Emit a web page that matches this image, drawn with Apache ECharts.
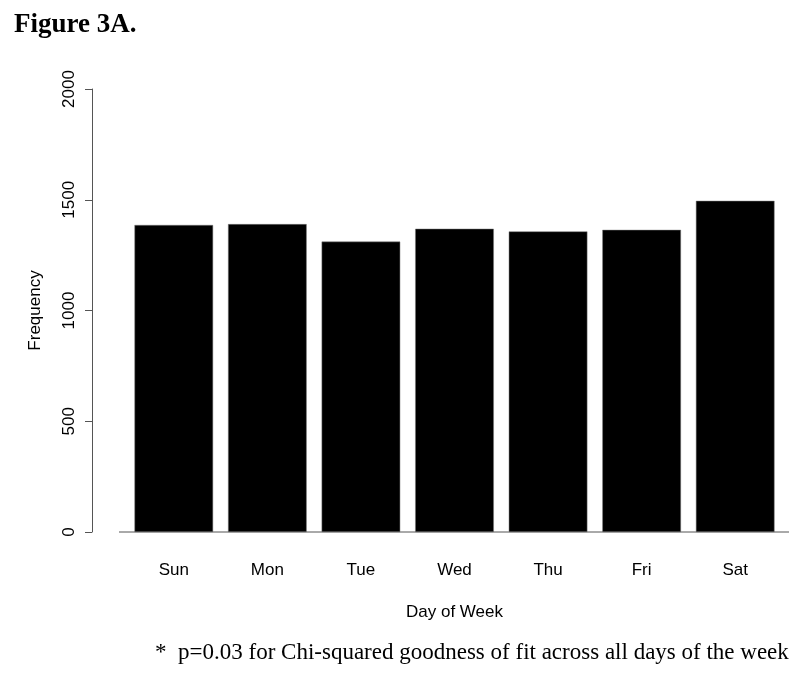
<!DOCTYPE html>
<html>
<head>
<meta charset="utf-8">
<script src="https://cdn.jsdelivr.net/npm/echarts@6/dist/echarts.min.js"></script>
<style>
  html, body { margin: 0; padding: 0; background: #fff; }
  #chart { width: 800px; height: 673px; }
</style>
</head>
<body>
<div id="chart"></div>
<script>
const days = ['Sun', 'Mon', 'Tue', 'Wed', 'Thu', 'Fri', 'Sat']
const frequency = [1386, 1390, 1311, 1369, 1357, 1364, 1495]
const yTicks = [0, 500, 1000, 1500, 2000]

const chart = echarts.init(document.getElementById('chart'))

const axisFont = { fontFamily: 'Liberation Sans, Arial, sans-serif', fontSize: 17, color: '#000' }

chart.setOption({
  animation: false,
  title: [{
    text: 'Figure 3A.',
    left: 9, top: 7,
    textStyle: { fontFamily: 'Liberation Serif, Times New Roman, serif', fontWeight: 'bold', fontSize: 27, color: '#000' }
  }, {
    text: '*  p=0.03 for Chi-squared goodness of fit across all days of the week',
    left: 150, top: 636,
    textStyle: { fontFamily: 'Liberation Serif, Times New Roman, serif', fontWeight: 'normal', fontSize: 23, color: '#000' }
  }],
  grid: { left: 127, right: 18, top: 89, bottom: 141 },
  xAxis: {
    type: 'category',
    data: days,
    name: 'Day of Week',
    nameLocation: 'middle',
    nameGap: 72,
    nameTextStyle: axisFont,
    axisLine: { show: false },
    axisTick: { show: false },
    axisLabel: { ...axisFont, margin: 30 }
  },
  yAxis: {
    type: 'value',
    min: yTicks[0],
    max: yTicks[yTicks.length - 1],
    interval: 500,
    offset: 35,
    name: 'Frequency',
    nameLocation: 'middle',
    nameGap: 48,
    nameTextStyle: axisFont,
    axisLine: { show: true, lineStyle: { color: '#555', width: 1 } },
    axisTick: { show: true, length: 7, lineStyle: { color: '#555' } },
    axisLabel: { ...axisFont, rotate: 90, margin: 14, formatter: v => String(v) },
    splitLine: { show: false }
  },
  series: [{
    type: 'bar',
    data: frequency,
    barCategoryGap: '16%',
    itemStyle: { color: '#000', borderColor: '#777', borderWidth: 0.5 }
  }]
})

// x axis baseline, R-style: extends a little beyond the bars
const y0 = chart.convertToPixel({ yAxisIndex: 0 }, 0)
chart.setOption({
  graphic: [{
    type: 'line',
    shape: { x1: 119, y1: y0, x2: 789, y2: y0 },
    style: { stroke: '#555', lineWidth: 1 }
  }]
})
</script>
</body>
</html>
